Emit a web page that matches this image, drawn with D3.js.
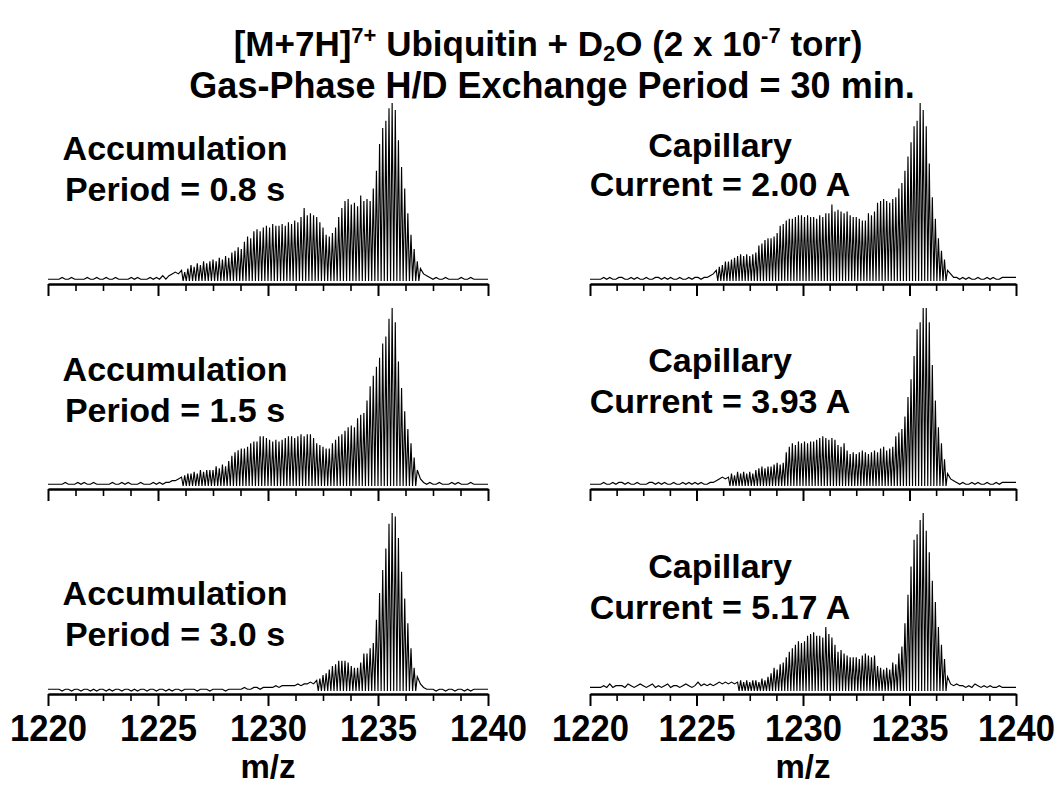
<!DOCTYPE html>
<html>
<head>
<meta charset="utf-8">
<script src="https://cdn.jsdelivr.net/npm/d3@7"></script>
<style>
  body { margin: 0; background: #fff; }
  text { font-family: "Liberation Sans", Arial, Helvetica, sans-serif; font-weight: bold; fill: #000; }
</style>
</head>
<body>
<svg></svg>
<script>
const width = 1057
const height = 786

// isotope peaks of the 7+ ion: first peak at mzStart, one peak every 1/charge m/z
const mzStart = 1220.5
const charge = 7
const mzDomain = [1220, 1240]
const majorTicks = [1220, 1225, 1230, 1235, 1240]
const minorTicks = [1221.25, 1222.5, 1223.75, 1226.25, 1227.5, 1228.75,
                    1231.25, 1232.5, 1233.75, 1236.25, 1237.5, 1238.75]

// relative peak heights (% of base peak), one row per m/z unit starting at 1220.5
const acc08 = [
  1,2,1,1,2,1,1,  1,1,2,1,1,2,1,  1,2,1,1,2,1,1,  1,1,2,1,2,1,1,  1,2,1,2,1,3,1,
  3,4,5,4,6,5,7,  9,8,10,9,11,10,11,  12,11,13,12,14,13,16,  17,19,18,22,25,24,28,
  29,28,30,31,30,32,31,  31,32,31,33,32,34,33,  36,41,37,38,37,36,33,
  30,26,25,27,30,36,41,  45,46,43,44,42,48,45,  46,45,52,62,77,86,90,
  97,100,96,79,64,52,38,  26,18,11,7,4,3,2,  1,2,1,1,2,1,1,  1,1,2,1,1,2,1
]
const acc15 = [
  1,1,2,1,1,1,2,  1,2,1,1,2,1,1,  1,1,1,2,1,1,2,  1,2,1,1,1,2,1,  1,1,2,1,2,1,2,
  2,3,3,4,5,6,7,  7,8,7,9,8,9,9,  9,11,10,12,11,14,17,  19,20,21,21,22,24,25,
  25,28,28,27,26,25,26,  25,26,27,28,28,27,28,  29,28,29,29,27,24,23,
  22,21,21,24,26,28,29,  31,33,34,33,38,40,41,  48,56,62,67,72,80,84,
  94,100,92,70,55,42,32,  24,16,9,4,2,1,2,  1,1,2,1,1,1,2,  1,2,1,1,1,2,1
]
const acc30 = [
  1,0,1,1,0,1,1,  0,1,1,0,1,0,1,  1,0,1,0,1,1,0,  1,1,0,1,0,1,1,  0,1,1,0,1,1,0,
  1,0,1,1,0,1,1,  1,1,0,1,1,1,0,  1,1,1,1,0,1,1,  1,1,1,2,1,1,2,
  2,1,2,2,2,2,3,  2,3,3,3,3,3,4,  3,4,4,5,4,6,7,
  9,10,12,14,15,17,17,  17,16,14,13,13,16,21,  21,24,27,40,55,68,80,
  94,100,98,86,67,52,38,  24,13,8,4,2,1,1,  1,0,1,1,0,1,1,  0,1,1,0,1,0,1
]
const cap200 = [
  1,2,1,2,1,1,2,  2,1,1,2,1,2,1,  1,2,1,1,2,2,1,  2,1,2,1,1,2,1,  1,2,1,2,2,1,2,
  2,3,4,6,8,9,11,  11,12,13,14,15,14,15,  14,15,16,20,21,23,24,  24,25,27,31,32,34,35,
  35,36,37,37,36,37,36,  36,35,37,36,38,38,43,  39,40,39,38,39,37,36,
  36,35,34,34,38,37,39,  44,45,46,45,44,46,47,  52,55,62,70,78,87,90,
  100,96,87,66,47,35,24,  17,12,6,4,2,2,1,  2,1,2,1,1,2,1,  1,2,1,2,1,1,2
]
const cap393 = [
  1,2,1,1,2,1,2,  2,1,2,1,1,2,1,  1,1,2,2,1,2,1,  2,1,1,2,1,1,2,  1,2,1,2,1,2,1,
  1,2,2,3,4,5,4,  5,7,6,8,7,8,7,  8,7,9,10,11,10,11,  11,12,13,12,13,19,22,
  24,23,25,24,25,24,25,  25,26,27,28,27,26,27,  26,23,22,24,20,18,19,
  18,19,20,19,18,19,20,  19,21,22,20,21,22,28,  30,32,39,50,60,73,88,
  92,100,100,92,68,48,33,  24,15,7,4,3,2,1,  2,1,1,2,1,2,1,  1,2,1,1,2,1,2
]
const cap517 = [
  2,3,2,4,2,3,3,  3,2,4,3,2,3,4,  3,2,3,4,2,3,2,  3,4,2,3,3,2,3,  4,3,2,3,5,3,4,
  3,4,3,4,5,4,5,  4,5,4,5,6,5,6,  5,6,6,5,7,6,8,  10,13,12,15,16,19,22,
  24,26,28,27,28,31,32,  33,31,31,30,36,32,30,  26,22,23,21,20,19,19,
  19,18,20,21,20,19,20,  14,13,12,13,12,16,15,  21,25,38,54,70,85,88,
  96,100,90,78,62,50,36,  26,18,8,4,3,4,3,  3,2,3,2,4,3,2,  3,2,3,2,2,3,2
]

const titleLine2 = 'Gas-Phase H/D Exchange Period = 30 min.'

const panels = [
  { values: acc08,  col: 0, row: 0, label: ['Accumulation', 'Period = 0.8 s'] },
  { values: acc15,  col: 0, row: 1, label: ['Accumulation', 'Period = 1.5 s'] },
  { values: acc30,  col: 0, row: 2, label: ['Accumulation', 'Period = 3.0 s'] },
  { values: cap200, col: 1, row: 0, label: ['Capillary', 'Current = 2.00 A'] },
  { values: cap393, col: 1, row: 1, label: ['Capillary', 'Current = 3.93 A'] },
  { values: cap517, col: 1, row: 2, label: ['Capillary', 'Current = 5.17 A'] }
]

// layout
const colRange = [[48, 488], [590, 1016]]
const colLabelX = [175, 720]
const rowAxisY = [284, 489, 694]
const labelY = [[[160, 201], [381, 422], [605, 646]],
                [[157, 196], [372, 413], [578, 619]]]
const traceLift = 3
const traceHeight = 178
const noiseCut = 4

const svg = d3.select('svg')
  .attr('width', width)
  .attr('height', height)

// title
const title = svg.append('text')
  .attr('x', 548)
  .attr('y', 56)
  .attr('text-anchor', 'middle')
  .attr('font-size', 35)
title.append('tspan').text('[M+7H]')
title.append('tspan').attr('font-size', 22).attr('dy', -13).text('7+')
title.append('tspan').attr('dy', 13).text(' Ubiquitin + D')
title.append('tspan').attr('font-size', 22).attr('dy', 5).text('2')
title.append('tspan').attr('dy', -5).text('O (2 x 10')
title.append('tspan').attr('font-size', 22).attr('dy', -13).text('-7')
title.append('tspan').attr('dy', 13).text(' torr)')

svg.append('text')
  .attr('x', 552)
  .attr('y', 98)
  .attr('text-anchor', 'middle')
  .attr('font-size', 36)
  .text(titleLine2)

function tracePoints(values) {
  const half = 0.5 / charge
  const pts = [[mzDomain[0], values[0]]]
  values.forEach((v, i) => {
    const mz = mzStart + i / charge
    const prev = i > 0 ? values[i - 1] : 0
    if (v > noiseCut && prev > noiseCut) pts.push([mz - half, 0])
    pts.push([mz, v])
  })
  pts.push([mzDomain[1], values[values.length - 1]])
  return pts
}

panels.forEach(p => {
  const axisY = rowAxisY[p.row]
  const x = d3.scaleLinear().domain(mzDomain).range(colRange[p.col])
  const y = d3.scaleLinear().domain([0, 100])
    .range([axisY - traceLift, axisY - traceLift - traceHeight])

  const g = svg.append('g')

  const line = d3.line()
    .x(d => x(d[0]))
    .y(d => y(d[1]))

  g.append('path')
    .datum(tracePoints(p.values))
    .attr('fill', 'none')
    .attr('stroke', '#000')
    .attr('stroke-width', 1.15)
    .attr('stroke-linejoin', 'miter')
    .attr('d', line)

  // axis with long major ticks and short minor ticks
  const axisMajor = g.append('g')
    .attr('transform', `translate(0,${axisY})`)
    .call(d3.axisBottom(x).tickValues(majorTicks).tickSize(12).tickSizeOuter(0)
      .tickFormat(p.row === 2 ? d3.format('d') : ''))
  axisMajor.select('.domain').attr('stroke-width', 2.6)
  axisMajor.selectAll('.tick line').attr('stroke-width', 2)
  axisMajor.selectAll('.tick text')
    .attr('font-size', 36)
    .attr('font-family', '"Liberation Sans", Arial, sans-serif')
    .attr('font-weight', 'bold')
    .attr('textLength', 77)
    .attr('lengthAdjust', 'spacingAndGlyphs')
    .attr('dy', 0)
    .attr('y', 47)

  g.append('g')
    .attr('transform', `translate(0,${axisY})`)
    .call(d3.axisBottom(x).tickValues(minorTicks).tickSize(7).tickFormat(''))
    .call(a => a.select('.domain').remove())
    .selectAll('.tick line').attr('stroke-width', 1.6)

  if (p.row === 2) {
    g.append('text')
      .attr('x', (colRange[p.col][0] + colRange[p.col][1]) / 2)
      .attr('y', axisY + 84)
      .attr('text-anchor', 'middle')
      .attr('font-size', 33)
      .text('m/z')
  }

  // panel label
  p.label.forEach((t, k) => {
    g.append('text')
      .attr('x', colLabelX[p.col])
      .attr('y', labelY[p.col][p.row][k])
      .attr('text-anchor', 'middle')
      .attr('font-size', 34)
      .text(t)
  })
})
</script>
</body>
</html>
